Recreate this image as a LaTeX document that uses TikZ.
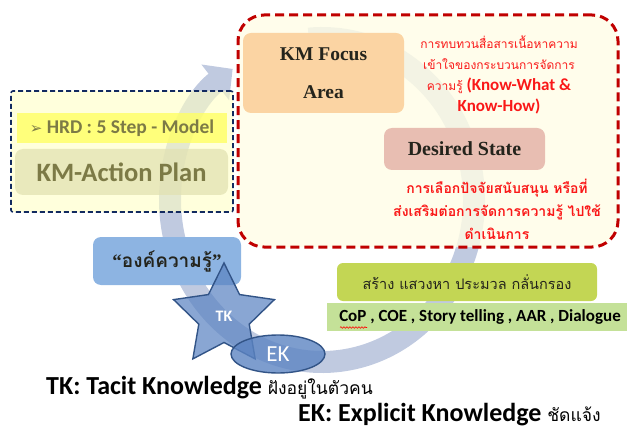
\documentclass[tikz,border=0pt]{standalone}
\usepackage{fontspec}
\setmainfont{Carlito}
\newfontfamily\thaifont[Script=Thai]{Loma}
\newfontfamily\romanfont{Liberation Serif}
\newfontfamily\symfont{DejaVu Sans}
\usetikzlibrary{arrows.meta,positioning,shapes.geometric,decorations.pathmorphing}
\definecolor{redline}{RGB}{192,0,0}
\definecolor{redtext}{RGB}{250,24,24}
\definecolor{creamfill}{RGB}{255,253,230}
\definecolor{navydash}{RGB}{18,42,96}
\definecolor{paleyellow}{RGB}{255,255,196}
\definecolor{hrdyellow}{RGB}{255,255,100}
\definecolor{khaki}{RGB}{226,226,178}
\definecolor{olive}{RGB}{124,122,70}
\definecolor{peach}{RGB}{251,212,163}
\definecolor{rose}{RGB}{232,190,178}
\definecolor{darktext}{RGB}{36,36,28}
\definecolor{skyblue}{RGB}{141,180,226}
\definecolor{starblue}{RGB}{92,132,194}
\definecolor{starline}{RGB}{50,84,135}
\definecolor{lime}{RGB}{195,214,84}
\definecolor{palegreen}{RGB}{196,225,152}
\definecolor{ringgrey}{RGB}{192,202,224}
\newcommand{\thsmall}{\thaifont\mdseries\fontsize{12}{21}\selectfont}
\newcommand{\thlegend}{\thaifont\mdseries\fontsize{17.5}{17.5}\selectfont}

\begin{document}
\begin{tikzpicture}[x=1pt, y=-1pt,
    card/.style={rounded corners=8pt, inner sep=0pt, align=center},
    redtxt/.style={text=redtext, align=center, inner sep=0pt},
    bottomtxt/.style={anchor=base west, inner sep=0pt, font=\bfseries\fontsize{26}{26}\selectfont}
]
\useasboundingbox (0,0) rectangle (628,430);

% ring with arrow head behind everything
\draw[ringgrey, line width=22pt, -{Triangle[length=22pt,width=44pt]}]
    (322,200) ++(-95:152 and 162) arc[start angle=-95, end angle=234, x radius=152, y radius=162];

% red dashed area
\node[draw=redline, dash pattern=on 9pt off 5pt, line width=3pt, rounded corners=26pt,
      fill=creamfill, fill opacity=0.82, minimum width=380pt, minimum height=232pt] (focusframe) at (428,131) {};
\node[card, fill=peach, minimum width=161pt, minimum height=80pt, text=darktext,
      font=\romanfont\bfseries\fontsize{19.5}{38}\selectfont] (focus) at (323.5,73) {KM Focus\\Area};
\node[card, fill=rose, minimum width=161pt, minimum height=42pt, text=darktext,
      font=\romanfont\bfseries\fontsize{20}{20}\selectfont] (desired) at (464.5,149) {Desired State};
\node[redtxt, font=\bfseries\fontsize{17}{21}\selectfont] (reviewnote) at (499,75)
    {{\thsmall การทบทวนสื่อสารเนื้อหาความ}\\{\thsmall เข้าใจของกระบวนการจัดการ}\\{\thsmall ความรู้} (Know-What \&\\Know-How)};
\node[redtxt, font=\thaifont\bfseries\fontsize{14}{23}\selectfont] (selectnote) at (497,209)
    {การเลือกปัจจัยสนับสนุน หรือที่\\ส่งเสริมต่อการจัดการความรู้ ไปใช้\\ดำเนินการ};

% left dashed plan box
\node[draw=navydash, dash pattern=on 5pt off 3pt, line width=1.6pt, rounded corners=2pt,
      fill=paleyellow, fill opacity=0.6, minimum width=222pt, minimum height=121pt] (planframe) at (122,151.5) {};
\node[fill=hrdyellow, fill opacity=0.8, text opacity=1, text=olive, minimum width=210pt, minimum height=30pt,
      inner sep=0pt, font=\bfseries\fontsize{19.5}{19.5}\selectfont] (hrd) at (122,128)
    {{\symfont\mdseries\fontsize{15}{15}\selectfont ➢} HRD : 5 Step - Model};
\node[card, fill=khaki, fill opacity=0.75, text opacity=1, text=olive, minimum width=213pt, minimum height=46pt,
      font=\bfseries\fontsize{26.5}{26.5}\selectfont] (action) at (121.5,172) {KM-Action Plan};

% knowledge, TK star and EK ellipse
\node[card, fill=skyblue, minimum width=148pt, minimum height=48pt, text=darktext,
      font=\thaifont\bfseries\fontsize{19}{19}\selectfont] (knowledge) at (167,261) {{\romanfont “}องค์ความรู้{\romanfont ”}};
\node[star, star points=5, star point ratio=2.0, minimum size=106pt, inner sep=0pt,
      fill=starblue, fill opacity=0.72, draw=starline, line width=1.4pt, text opacity=1, text=white,
      font=\bfseries\fontsize{16}{16}\selectfont] (tk) at (224,316) {TK};
\node[ellipse, minimum width=94pt, minimum height=38pt, inner sep=0pt,
      fill=starblue, fill opacity=0.8, draw=starline, line width=1.4pt, text opacity=1, text=white,
      font=\fontsize{23}{23}\selectfont] (ek) at (278,354) {EK};

% green boxes
\node[card, rounded corners=6pt, fill=lime, minimum width=260pt, minimum height=38pt, text=darktext,
      font=\thaifont\fontsize{14.5}{14.5}\selectfont] (create) at (467,282) {สร้าง แสวงหา ประมวล กลั่นกรอง};
\node[fill=palegreen, minimum width=300pt, minimum height=28pt, inner sep=0pt,
      font=\bfseries\fontsize{17}{17}\selectfont] (tools) at (477,317) {\hspace{6pt}CoP , COE , Story telling , AAR , Dialogue};
\draw[red, line width=0.6pt, decorate, decoration={snake, amplitude=0.8pt, segment length=3pt}] (340,327.5) -- (367,327.5);

% legend lines
\node[bottomtxt] (tacit) at (46,394) {TK: Tacit Knowledge {\thlegend ฝังอยู่ในตัวคน}};
\node[bottomtxt] (explicit) at (298,421) {EK: Explicit Knowledge {\thlegend ชัดแจ้ง}};
\end{tikzpicture}
\end{document}
